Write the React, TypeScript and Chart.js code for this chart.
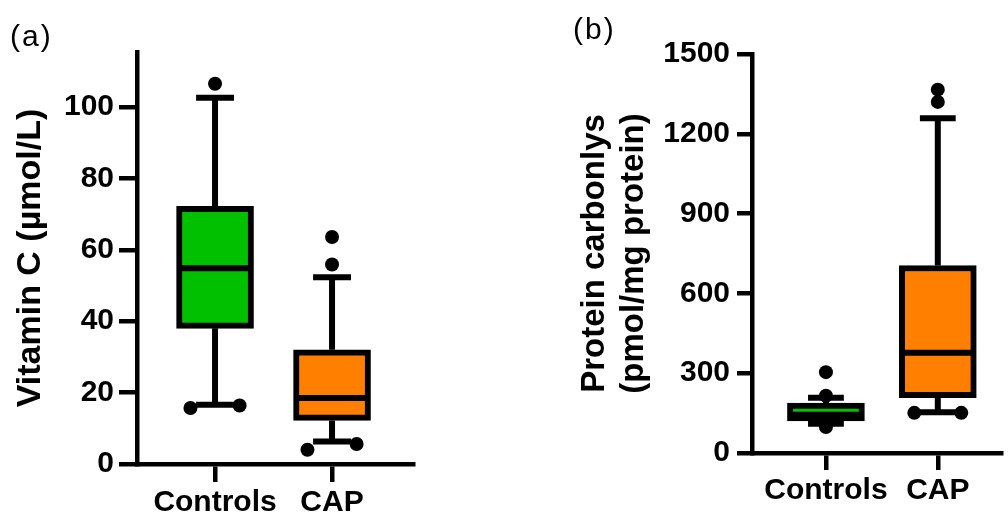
import React, { useEffect, useRef } from "react";
import { Chart, registerables } from "chart.js";

Chart.register(...registerables);

// ---------- shared ----------
const CATEGORIES = ["Controls", "CAP"];
const BOX_COLORS = ["#00C000", "#FF8000"];

// ---------- panel (a): Vitamin C (µmol/L) ----------
const VITC_Q1 = [38, 12.2];
const VITC_MEDIAN = [54.8, 18.5];
const VITC_Q3 = [72.2, 32];
const VITC_LOW = [16.6, 6.3];
const VITC_HIGH = [102.6, 52.3];
const VITC_OUTLIERS = [
  [106.5, 15.7, 16.4],
  [63.6, 55.9, 4.0, 5.6],
];
const VITC_OUTLIER_JITTER = [
  [0, -0.21, 0.21],
  [0, 0, -0.21, 0.21],
];
const VITC_TICKS = [0, 20, 40, 60, 80, 100];

// ---------- panel (b): Protein carbonyls ----------
const PC_Q1 = [121, 208];
const PC_MEDIAN = [144, 377];
const PC_Q3 = [188, 705];
const PC_LOW = [110, 153];
const PC_HIGH = [208, 1258];
const PC_OUTLIERS = [
  [304, 215, 98],
  [1366, 1320, 151, 151],
];
const PC_OUTLIER_JITTER = [
  [0, 0, 0],
  [0, 0, -0.21, 0.21],
];
const PC_TICKS = [0, 300, 600, 900, 1200, 1500];

const FONT = "'Liberation Sans', Arial, Helvetica, sans-serif";

function segment(points: { x: number; y: number }[], order: number) {
  return {
    type: "line" as const,
    data: points,
    borderColor: "#000",
    borderWidth: 6,
    borderCapStyle: "butt",
    pointRadius: 0,
    pointHoverRadius: 0,
    fill: false,
    tension: 0,
    order,
  };
}

function buildDatasets(
  q1: number[],
  med: number[],
  q3: number[],
  low: number[],
  high: number[],
  outliers: number[][],
  jitter: number[][],
  capHalf: number,
  medHalf: number
) {
  const ds: any[] = [];
  ds.push({
    type: "bar",
    data: CATEGORIES.map((_, i) => ({ x: i, y: [q1[i], q3[i]] })),
    backgroundColor: BOX_COLORS,
    borderColor: "#000",
    borderWidth: 6,
    borderSkipped: false,
    barThickness: 77,
    order: 2,
  });
  CATEGORIES.forEach((_, i) => {
    ds.push(segment([{ x: i, y: q3[i] }, { x: i, y: high[i] }], 3));
    ds.push(segment([{ x: i, y: q1[i] }, { x: i, y: low[i] }], 3));
    ds.push(segment([{ x: i - capHalf, y: high[i] }, { x: i + capHalf, y: high[i] }], 3));
    ds.push(segment([{ x: i - capHalf, y: low[i] }, { x: i + capHalf, y: low[i] }], 3));
    ds.push(segment([{ x: i - medHalf, y: med[i] }, { x: i + medHalf, y: med[i] }], 1));
  });
  ds.push({
    type: "line",
    showLine: false,
    data: outliers.flatMap((arr, i) => arr.map((v, j) => ({ x: i + jitter[i][j], y: v }))),
    pointRadius: 7,
    pointHoverRadius: 7,
    pointBackgroundColor: "#000",
    pointBorderWidth: 0,
    order: 0,
  });
  return ds;
}

type Spec = {
  datasets: any[];
  ticks: number[];
  yMax: number;
  xMin: number;
  xMax: number;
  title: string | string[];
  titleSize: number;
  titleLineHeight: number;
  titlePad: number;
  yWidth: number;
  xHeight: number;
  padTop: number;
  padRight: number;
  yTickLen: number;
  yTickPad: number;
  xTickLen: number;
  xTickPad: number;
};

function makeConfig(s: Spec): any {
  const tickFont = { family: FONT, size: 30, weight: "bold" as const, lineHeight: 1.2 };
  return {
    type: "bar",
    data: { datasets: s.datasets },
    options: {
      animation: false,
      responsive: false,
      maintainAspectRatio: false,
      events: [],
      layout: { padding: { left: 0, top: s.padTop, right: s.padRight, bottom: 0 } },
      plugins: { legend: { display: false }, tooltip: { enabled: false }, title: { display: false } },
      scales: {
        x: {
          type: "linear",
          min: s.xMin,
          max: s.xMax,
          offset: false,
          afterBuildTicks: (sc: any) => {
            sc.ticks = CATEGORIES.map((_, i) => ({ value: i }));
          },
          afterFit: (sc: any) => {
            sc.height = s.xHeight;
          },
          ticks: {
            autoSkip: false,
            maxRotation: 0,
            minRotation: 0,
            padding: s.xTickPad,
            color: "#000",
            font: tickFont,
            callback: (v: any) => CATEGORIES[Math.round(Number(v))] ?? "",
          },
          grid: {
            display: true,
            drawOnChartArea: false,
            drawTicks: true,
            tickLength: s.xTickLen,
            lineWidth: 4.5,
            color: "#000",
            offset: false,
          },
          border: { display: true, width: 4.5, color: "#000" },
        },
        y: {
          type: "linear",
          min: 0,
          max: s.yMax,
          afterBuildTicks: (sc: any) => {
            sc.ticks = s.ticks.map((v) => ({ value: v }));
          },
          afterFit: (sc: any) => {
            sc.width = s.yWidth;
          },
          ticks: {
            includeBounds: false,
            padding: s.yTickPad,
            color: "#000",
            font: tickFont,
            callback: (v: any) => String(v),
          },
          grid: {
            display: true,
            drawOnChartArea: false,
            drawTicks: true,
            tickLength: s.yTickLen,
            lineWidth: 4.5,
            color: "#000",
          },
          border: { display: true, width: 4.5, color: "#000" },
          title: {
            display: true,
            text: s.title,
            color: "#000",
            font: { family: FONT, size: s.titleSize, weight: "bold", lineHeight: s.titleLineHeight },
            padding: { top: s.titlePad, bottom: 0 },
          },
        },
      },
    },
  };
}

function Panel({ spec, width, height }: { spec: Spec; width: number; height: number }) {
  const ref = useRef<HTMLCanvasElement | null>(null);
  useEffect(() => {
    if (!ref.current) return;
    const chart = new Chart(ref.current, makeConfig(spec));
    return () => chart.destroy();
  }, []);
  return <canvas ref={ref} width={width} height={height} style={{ width, height, display: "block" }} />;
}

const specA: Spec = {
  datasets: buildDatasets(VITC_Q1, VITC_MEDIAN, VITC_Q3, VITC_LOW, VITC_HIGH, VITC_OUTLIERS, VITC_OUTLIER_JITTER, 0.162, 0.3),
  ticks: VITC_TICKS,
  yMax: 115.4,
  xMin: -0.667,
  xMax: 1.692,
  title: "Vitamin C (µmol/L)",
  titleSize: 34,
  titleLineHeight: 1.2,
  titlePad: 10.6,
  yWidth: 137,
  xHeight: 51,
  padTop: 52,
  padRight: 480 - 413,
  yTickLen: 18,
  yTickPad: 5,
  xTickLen: 18,
  xTickPad: 3,
};

const specB: Spec = {
  datasets: buildDatasets(PC_Q1, PC_MEDIAN, PC_Q3, PC_LOW, PC_HIGH, PC_OUTLIERS, PC_OUTLIER_JITTER, 0.16, 0.3),
  ticks: PC_TICKS,
  yMax: 1500,
  xMin: -0.661,
  xMax: 1.565,
  title: ["Protein carbonlys", "(pmol/mg protein)"],
  titleSize: 33,
  titleLineHeight: 1.17,
  titlePad: 96,
  yWidth: 272,
  xHeight: 62,
  padTop: 54,
  padRight: 0,
  yTickLen: 15,
  yTickPad: 7,
  xTickLen: 17,
  xTickPad: 2.5,
};

export default function App() {
  const letter: React.CSSProperties = {
    position: "absolute",
    font: `30px ${FONT}`,
    lineHeight: "30px",
    letterSpacing: "2px",
    color: "#000",
    whiteSpace: "nowrap",
  };
  return (
    <div style={{ position: "absolute", left: 0, top: 0, width: 1008, height: 515, overflow: "hidden", background: "#fff" }}>
      <div style={{ position: "absolute", left: 0, top: 0 }}>
        <Panel spec={specA} width={480} height={515} />
      </div>
      <div style={{ position: "absolute", left: 480, top: 0 }}>
        <Panel spec={specB} width={528} height={515} />
      </div>
      <div style={{ ...letter, left: 10, top: 20.6 }}>(a)</div>
      <div style={{ ...letter, left: 573, top: 13.6 }}>(b)</div>
    </div>
  );
}
